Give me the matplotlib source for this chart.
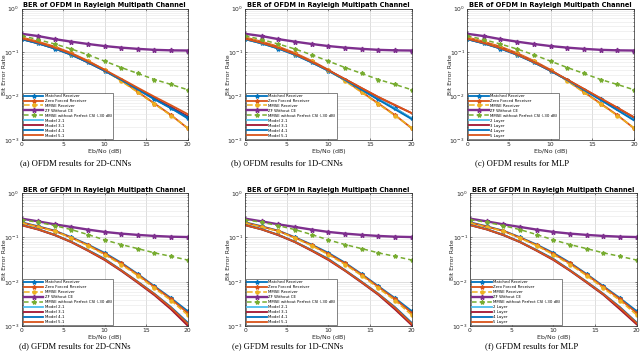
import matplotlib
matplotlib.use("Agg")
import matplotlib.pyplot as plt
from matplotlib.ticker import LogLocator, NullFormatter

# ---------------- data ----------------
ebno = [0, 2, 4, 6, 8, 10, 12, 14, 16, 18, 20]

# OFDM baselines
ofdm_matched = [0.200, 0.160, 0.122, 0.088, 0.059, 0.038, 0.0235, 0.0140, 0.0085, 0.0053, 0.0031]
ofdm_zf = [0.220, 0.175, 0.135, 0.096, 0.064, 0.040, 0.0230, 0.0125, 0.0068, 0.0037, 0.00185]
ofdm_mmse = [0.215, 0.170, 0.130, 0.093, 0.062, 0.039, 0.0220, 0.0122, 0.0066, 0.0036, 0.0019]
ofdm_zf_noce = [0.265, 0.235, 0.200, 0.175, 0.155, 0.139, 0.128, 0.120, 0.114, 0.111, 0.110]
ofdm_mmse_nocsi = [0.240, 0.195, 0.155, 0.119, 0.088, 0.063, 0.045, 0.033, 0.024, 0.0185, 0.014]

# OFDM models
ofdm_2d_m2 = [0.200, 0.160, 0.122, 0.088, 0.059, 0.038, 0.0238, 0.0145, 0.0088, 0.0055, 0.0034]
ofdm_2d_m3 = [0.202, 0.161, 0.123, 0.089, 0.059, 0.038, 0.0240, 0.0147, 0.0089, 0.0056, 0.0035]
ofdm_2d_m4 = [0.200, 0.160, 0.122, 0.088, 0.059, 0.038, 0.0236, 0.0143, 0.0086, 0.0053, 0.0033]
ofdm_2d_m5 = [0.210, 0.168, 0.128, 0.093, 0.062, 0.040, 0.0250, 0.0155, 0.0097, 0.0062, 0.0039]

ofdm_1d_m2 = [0.200, 0.160, 0.122, 0.088, 0.059, 0.038, 0.0235, 0.0142, 0.0085, 0.0052, 0.0031]
ofdm_1d_m3 = [0.205, 0.164, 0.125, 0.090, 0.060, 0.039, 0.0245, 0.0152, 0.0095, 0.0062, 0.0041]
ofdm_1d_m4 = [0.200, 0.160, 0.122, 0.088, 0.059, 0.038, 0.0235, 0.0140, 0.0083, 0.0050, 0.0030]
ofdm_1d_m5 = [0.205, 0.165, 0.126, 0.091, 0.061, 0.039, 0.0245, 0.0153, 0.0096, 0.0063, 0.0041]

ofdm_mlp_l2 = [0.200, 0.160, 0.122, 0.088, 0.059, 0.038, 0.0235, 0.0140, 0.0083, 0.0049, 0.0029]
ofdm_mlp_l3 = [0.203, 0.162, 0.124, 0.089, 0.060, 0.038, 0.0238, 0.0145, 0.0088, 0.0054, 0.0033]
ofdm_mlp_l4 = [0.200, 0.160, 0.122, 0.088, 0.059, 0.038, 0.0234, 0.0139, 0.0082, 0.0048, 0.0028]
ofdm_mlp_l5 = [0.205, 0.164, 0.125, 0.090, 0.060, 0.039, 0.0240, 0.0147, 0.0090, 0.0055, 0.0033]

# GFDM baselines
gfdm_matched = [0.220, 0.178, 0.142, 0.101, 0.069, 0.045, 0.0270, 0.0150, 0.0080, 0.0043, 0.0022]
gfdm_zf = [0.215, 0.175, 0.140, 0.099, 0.067, 0.043, 0.0260, 0.0145, 0.0077, 0.0041, 0.0020]
gfdm_mmse = [0.210, 0.172, 0.137, 0.097, 0.065, 0.041, 0.0245, 0.0138, 0.0072, 0.0038, 0.0018]
gfdm_zf_noce = [0.265, 0.230, 0.197, 0.172, 0.150, 0.133, 0.122, 0.114, 0.108, 0.104, 0.102]
gfdm_mmse_nocsi = [0.250, 0.220, 0.184, 0.150, 0.116, 0.088, 0.069, 0.056, 0.045, 0.0375, 0.031]

# GFDM models
gfdm_2d_m2 = [0.190, 0.152, 0.113, 0.079, 0.051, 0.032, 0.0180, 0.0098, 0.0052, 0.0025, 0.00110]
gfdm_2d_m3 = [0.188, 0.150, 0.112, 0.078, 0.050, 0.031, 0.0176, 0.0095, 0.0050, 0.0024, 0.00103]
gfdm_2d_m4 = [0.192, 0.154, 0.115, 0.080, 0.052, 0.033, 0.0184, 0.0101, 0.0054, 0.0027, 0.00122]
gfdm_2d_m5 = [0.190, 0.152, 0.114, 0.079, 0.051, 0.032, 0.0182, 0.0099, 0.0053, 0.0026, 0.00115]

gfdm_1d_m2 = [0.190, 0.152, 0.113, 0.079, 0.051, 0.032, 0.0180, 0.0098, 0.0052, 0.0025, 0.00110]
gfdm_1d_m3 = [0.189, 0.151, 0.112, 0.078, 0.050, 0.031, 0.0177, 0.0096, 0.0051, 0.0024, 0.00106]
gfdm_1d_m4 = [0.192, 0.154, 0.115, 0.080, 0.052, 0.033, 0.0184, 0.0101, 0.0054, 0.0027, 0.00120]
gfdm_1d_m5 = [0.190, 0.152, 0.114, 0.079, 0.051, 0.032, 0.0181, 0.0099, 0.0053, 0.0026, 0.00114]

gfdm_mlp_l2 = [0.190, 0.152, 0.113, 0.079, 0.051, 0.032, 0.0180, 0.0098, 0.0052, 0.0025, 0.00115]
gfdm_mlp_l3 = [0.189, 0.151, 0.112, 0.078, 0.050, 0.031, 0.0177, 0.0096, 0.0051, 0.0024, 0.00110]
gfdm_mlp_l4 = [0.192, 0.154, 0.115, 0.080, 0.052, 0.033, 0.0184, 0.0101, 0.0054, 0.0027, 0.00122]
gfdm_mlp_l5 = [0.190, 0.152, 0.114, 0.079, 0.051, 0.032, 0.0181, 0.0099, 0.0053, 0.0026, 0.00118]

baseline_labels = ["Matched Receiver", "Zero Forced Receiver", "MMSE Receiver",
                   "ZF Without CE", "MMSE without Perfect CSI (-30 dB)"]
cnn_labels = ["Model 2-1", "Model 3-1", "Model 4-1", "Model 5-1"]
mlp_labels = ["2 Layer", "3 Layer", "4 Layer", "5 Layer"]
titles = ["BER of OFDM in Rayleigh Multipath Channel",
          "BER of GFDM in Rayleigh Multipath Channel"]
captions = ["(a) OFDM results for 2D-CNNs", "(b) OFDM results for 1D-CNNs",
            "(c) OFDM results for MLP", "(d) GFDM results for 2D-CNNs",
            "(e) GFDM results for 1D-CNNs", "(f) GFDM results for MLP"]
x_ticks = [0, 5, 10, 15, 20]

# ---------------- styles ----------------
C_BLUE = "#0072BD"
C_ORANGE = "#D95319"
C_YELLOW = "#EDB120"
C_PURPLE = "#7E2F8E"
C_GREEN = "#77AC30"
C_CYAN = "#4DBEEE"
C_DRED = "#A2142F"

fig = plt.figure(figsize=(6.4, 3.56), dpi=100)
W, H = 640.0, 356.0

# axes pixel boxes (left, right, top, bottom)
boxes = [(21.5, 187.7, 8.5, 140), (245, 411.7, 8.5, 140), (467, 634, 8.5, 140),
         (21.5, 187.7, 193, 326.3), (245, 411.7, 193, 326.3), (470, 636.7, 193, 326.3)]
ylabel_x = [4.5, 228, 450, 4.5, 228, 453]
cap_x = [76, 287, 522, 75, 288, 532]
cap_y = [163, 163, 163, 346, 346, 346]

panels = [
    (ofdm_matched, ofdm_zf, ofdm_mmse, ofdm_zf_noce, ofdm_mmse_nocsi,
     [ofdm_2d_m2, ofdm_2d_m3, ofdm_2d_m4, ofdm_2d_m5], cnn_labels, titles[0]),
    (ofdm_matched, ofdm_zf, ofdm_mmse, ofdm_zf_noce, ofdm_mmse_nocsi,
     [ofdm_1d_m2, ofdm_1d_m3, ofdm_1d_m4, ofdm_1d_m5], cnn_labels, titles[0]),
    (ofdm_matched, ofdm_zf, ofdm_mmse, ofdm_zf_noce, ofdm_mmse_nocsi,
     [ofdm_mlp_l2, ofdm_mlp_l3, ofdm_mlp_l4, ofdm_mlp_l5], mlp_labels, titles[0]),
    (gfdm_matched, gfdm_zf, gfdm_mmse, gfdm_zf_noce, gfdm_mmse_nocsi,
     [gfdm_2d_m2, gfdm_2d_m3, gfdm_2d_m4, gfdm_2d_m5], cnn_labels, titles[1]),
    (gfdm_matched, gfdm_zf, gfdm_mmse, gfdm_zf_noce, gfdm_mmse_nocsi,
     [gfdm_1d_m2, gfdm_1d_m3, gfdm_1d_m4, gfdm_1d_m5], cnn_labels, titles[1]),
    (gfdm_matched, gfdm_zf, gfdm_mmse, gfdm_zf_noce, gfdm_mmse_nocsi,
     [gfdm_mlp_l2, gfdm_mlp_l3, gfdm_mlp_l4, gfdm_mlp_l5], mlp_labels, titles[1]),
]

model_colors = [C_CYAN, C_DRED, C_BLUE, C_ORANGE]
tick_col = "#262626"

for i, (box, pdata) in enumerate(zip(boxes, panels)):
    l, r, t, b = box
    ax = fig.add_axes([l / W, 1 - b / H, (r - l) / W, (b - t) / H])
    matched, zf, mmse, zfnoce, mmsenocsi, models, mlabels, title = pdata
    ms = 3
    ax.plot(ebno, matched, color=C_BLUE, lw=1.3, marker="*", ms=ms, label=baseline_labels[0])
    ax.plot(ebno, zf, color=C_ORANGE, lw=1.3, marker="*", ms=ms, label=baseline_labels[1])
    ax.plot(ebno, mmse, color=C_YELLOW, lw=1.1, ls="--", marker="o", ms=2.2, label=baseline_labels[2])
    ax.plot(ebno, zfnoce, color=C_PURPLE, lw=1.7, marker="*", ms=3.5, label=baseline_labels[3])
    ax.plot(ebno, mmsenocsi, color=C_GREEN, lw=1.1, ls=(0, (3, 2)), marker="*", ms=ms,
            label=baseline_labels[4])
    for m, c, lab in zip(models, model_colors, mlabels):
        ax.plot(ebno, m, color=c, lw=1.3, label=lab)

    ax.set_yscale("log")
    ax.set_ylim(1e-3, 1)
    ax.set_xlim(0, 20)
    ax.set_xticks(x_ticks)
    ax.yaxis.set_major_locator(LogLocator(base=10, numticks=10))
    ax.yaxis.set_minor_locator(LogLocator(base=10, subs=range(2, 10), numticks=20))
    ax.yaxis.set_minor_formatter(NullFormatter())
    ax.grid(True, which="major", color="#d0d0d0", lw=0.5)
    ax.grid(True, which="minor", axis="y", color="#e6e6e6", lw=0.4)
    ax.tick_params(which="both", direction="in", labelsize=4.3, colors=tick_col,
                   length=1.5, width=0.4, top=True, right=True, pad=1.5)
    ax.tick_params(which="minor", length=1.0)
    for s in ax.spines.values():
        s.set_linewidth(0.5)
        s.set_color(tick_col)
    ax.set_title(title, fontsize=4.8, fontweight="bold", pad=1, color="#000000")
    ax.set_xlabel("Eb/No (dB)", fontsize=4.5, labelpad=1.5, color=tick_col)
    ax.set_ylabel("Bit Error Rate", fontsize=4.3, color=tick_col, va="center")
    ax.yaxis.set_label_coords((ylabel_x[i] - l) / (r - l), 0.5)
    leg = ax.legend(loc="lower left", fontsize=2.8, handlelength=5, labelspacing=0.25,
                    borderpad=0.3, handletextpad=0.4, framealpha=1, fancybox=False,
                    edgecolor="#262626", borderaxespad=0.3)
    leg.get_frame().set_linewidth(0.4)

    fig.text(cap_x[i] / W, 1 - cap_y[i] / H, captions[i], ha="center", va="center",
             fontsize=6.2, family="Liberation Serif")

fig.savefig("out.png", dpi=100)
